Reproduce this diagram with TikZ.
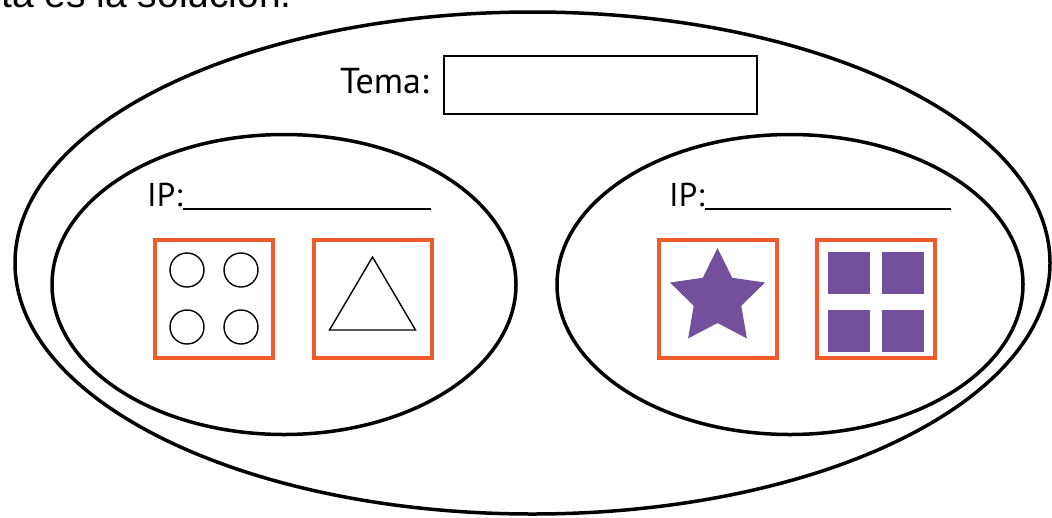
\documentclass[tikz,border=0pt]{standalone}
\usepackage{fontspec}
\setmainfont{PT Sans}
\newfontfamily\helv{Liberation Sans}
\usetikzlibrary{shapes.geometric}
\definecolor{naranja}{HTML}{F15A29}
\definecolor{morado}{HTML}{744F9C}
\begin{document}
\begin{tikzpicture}[x=1pt,y=-1pt,
    ovalo/.style={line width=3.5pt},
    caja/.style={draw=naranja,line width=4pt,minimum size=118pt,inner sep=0pt},
    fino/.style={line width=1.4pt},
    ip/.style={anchor=base west,inner sep=0pt,font=\fontsize{33}{36}\selectfont}]
        \useasboundingbox (0,0) rectangle (1052,517);
        \node[anchor=base east,inner sep=0pt,font=\helv\fontsize{39}{44}\selectfont] (titulo) at (292,7) {ta es la solución.};
        % ovalos
        \draw[ovalo] (532.5,263) ellipse [x radius=517.5,y radius=251];
        \draw[ovalo] (284,284.5) ellipse [x radius=232,y radius=150];
        \draw[ovalo] (790,284.5) ellipse [x radius=233,y radius=150];
        % tema
        \node[draw,line width=2pt,minimum width=313pt,minimum height=58pt,inner sep=0pt] (tema) at (600.5,85) {};
        \node[anchor=base east,inner sep=0pt,font=\fontsize{36}{40}\selectfont] (temalbl) at (429,93) {Tema:};
        % IP
        \foreach \n/\x/\e in {A/147/431,B/669/951} {
            \node[ip] (ip\n) at (\x,206) {IP:};
            \coordinate (fin\n) at (\e,209);
            \draw[line width=2pt] (fin\n -| ip\n.east) -- (fin\n);
        }
        \foreach \n/\x in {A/214,B/372.5,C/717.5,D/875.5}
            \node[caja] (cuad\n) at (\x,299) {};
        \foreach \dx in {-27,27} \foreach \dy in {-29,28}
            \draw[fino] ([shift={(\dx,\dy)}]cuadA.center) circle[radius=17];
        \draw[fino,line join=miter] ([shift={(0,-42)}]cuadB.center) -- ([shift={(43,31)}]cuadB.center) -- ([shift={(-43,31)}]cuadB.center) -- cycle;
        \node[star,star points=5,star point ratio=2,minimum size=100pt,inner sep=0pt,fill=morado] (estrella) at ([yshift=1pt]cuadC.center) {};
        \foreach \dx in {-27,27} \foreach \dy in {-26,32}
            \fill[morado] ([shift={(\dx-21,\dy-21)}]cuadD.center) rectangle ++(42,42);
    \end{tikzpicture}
\end{document}
